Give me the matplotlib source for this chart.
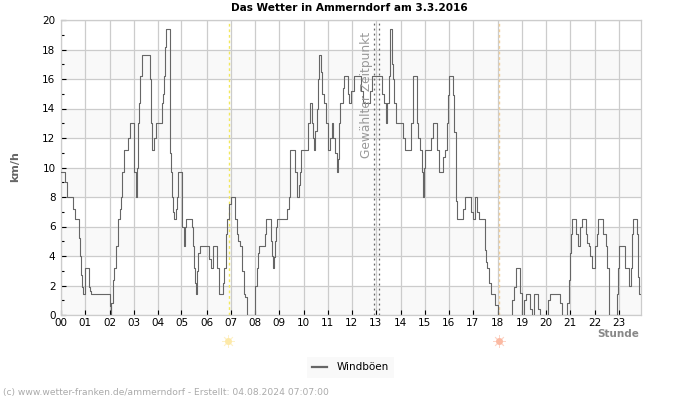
import matplotlib
matplotlib.use('Agg')
import matplotlib.pyplot as plt
from matplotlib.transforms import blended_transform_factory

# Windboeen (Stunde, km/h), je Zeile 10 Werte
stunden = [0, .17, .25, .50, .58, .73, .80, .84, .87, .91,
           .98, 1.15, 1.2, 1.24, 2.02, 2.06, 2.09, 2.14, 2.2, 2.27,
           2.29, 2.36, 2.43, 2.49, 2.54, 2.60, 2.76, 2.85, 3.01, 3.04,
           3.11, 3.14, 3.2, 3.23, 3.29, 3.36, 3.67, 3.72, 3.76, 3.78,
           3.84, 3.92, 4.17, 4.23, 4.28, 4.32, 4.36, 4.5, 4.53, 4.57,
           4.59, 4.64, 4.68, 4.75, 4.81, 4.85, 5.0, 5.03, 5.08, 5.12,
           5.18, 5.41, 5.46, 5.51, 5.55, 5.59, 5.64, 5.69, 5.75, 6.12,
           6.2, 6.28, 6.45, 6.53, 6.55, 6.7, 6.75, 6.82, 6.88, 6.95,
           7.04, 7.2, 7.27, 7.33, 7.43, 7.5, 7.56, 7.62, 7.71, 8.02,
           8.05, 8.12, 8.16, 8.2, 8.43, 8.5, 8.68, 8.74, 8.77, 8.81,
           8.85, 8.9, 8.95, 9.35, 9.43, 9.47, 9.5, 9.68, 9.77, 9.84,
           9.88, 9.93, 10.22, 10.24, 10.31, 10.38, 10.42, 10.48, 10.53, 10.59,
           10.63, 10.67, 10.75, 10.82, 10.88, 10.96, 11.06, 11.13, 11.21, 11.28,
           11.36, 11.42, 11.47, 11.5, 11.53, 11.57, 11.67, 11.72, 11.87, 11.94,
           12.03, 12.14, 12.44, 12.51, 12.81, 12.88, 13.28, 13.37, 13.45, 13.5,
           13.57, 13.63, 13.71, 13.75, 13.81, 13.89, 14.15, 14.25, 14.48, 14.57,
           14.73, 14.77, 14.88, 14.95, 14.99, 15.02, 15.08, 15.33, 15.4, 15.56,
           15.67, 15.81, 15.91, 15.98, 16.03, 16.06, 16.23, 16.29, 16.34, 16.36,
           16.41, 16.65, 16.74, 16.99, 17.05, 17.14, 17.22, 17.32, 17.57, 17.62,
           17.65, 17.73, 17.81, 17.97, 18.09, 18.67, 18.77, 18.84, 19.0, 19.08,
           19.17, 19.25, 19.42, 19.5, 19.58, 19.75, 19.83, 20.16, 20.25, 20.66,
           20.74, 20.96, 21.03, 21.09, 21.13, 21.17, 21.32, 21.42, 21.49, 21.58,
           21.74, 21.79, 21.85, 21.92, 21.99, 22.1, 22.21, 22.26, 22.44, 22.58,
           22.63, 22.69, 22.7, 23.02, 23.08, 23.12, 23.37, 23.51, 23.59, 23.64,
           23.68, 23.85, 23.88, 23.92, 24.0]
boeen = [9.7, 9.0, 8.0, 7.2, 6.5, 5.2, 4.0, 2.7, 1.9, 1.4,
         3.2, 1.9, 1.6, 1.4, 0.6, 0, 0.8, 2.4, 3.2, 4.0,
         4.7, 6.5, 7.2, 8.0, 9.7, 11.2, 12.0, 13.0, 11.0, 9.7,
         8.0, 10.0, 13.0, 14.4, 16.2, 17.6, 16.0, 13.0, 12.0, 11.2,
         12.0, 13.0, 14.4, 15.0, 16.2, 18.2, 19.4, 16.0, 11.0, 9.7,
         8.0, 7.0, 6.5, 7.2, 8.0, 9.7, 8.0, 6.0, 4.7, 6.0,
         6.5, 6.0, 4.7, 3.2, 2.2, 1.4, 3.0, 4.2, 4.7, 3.8,
         3.2, 4.7, 3.2, 2.2, 1.4, 2.2, 3.2, 5.5, 6.5, 7.5,
         8.0, 6.5, 5.5, 5.0, 4.7, 3.0, 1.4, 1.2, 0, 1.0,
         2.0, 3.2, 4.2, 4.7, 5.5, 6.5, 5.0, 4.0, 3.2, 3.9,
         5.0, 6.0, 6.5, 7.2, 8.0, 9.7, 11.2, 9.7, 8.0, 8.8,
         9.7, 11.2, 12.0, 13.0, 14.4, 13.0, 12.0, 11.2, 12.5, 14.0,
         16.0, 17.6, 16.5, 15.0, 14.4, 13.0, 11.2, 12.0, 13.0, 12.0,
         11.0, 9.7, 10.6, 11.0, 13.0, 14.4, 15.4, 16.2, 15.0, 14.4,
         15.2, 16.2, 15.2, 14.4, 15.2, 16.2, 15.0, 14.4, 13.0, 14.4,
         16.2, 19.4, 17.0, 16.0, 14.4, 13.0, 12.0, 11.2, 13.0, 16.2,
         13.0, 12.0, 11.2, 9.7, 8.0, 10.0, 11.2, 12.0, 13.0, 11.2,
         9.7, 10.7, 11.2, 13.0, 14.9, 16.2, 14.9, 12.4, 10.0, 7.7,
         6.5, 7.2, 8.0, 7.0, 6.5, 8.0, 7.0, 6.5, 4.4, 3.6,
         3.2, 2.2, 1.4, 0.7, 0, 1.0, 1.9, 3.2, 1.5, 0,
         1.0, 1.4, 0.4, 0, 1.4, 0.4, 0, 1.0, 1.4, 0.8,
         0, 0.8, 2.4, 4.2, 5.5, 6.5, 5.5, 4.7, 6.0, 6.5,
         5.5, 4.9, 4.7, 4.0, 3.2, 4.7, 5.5, 6.5, 5.5, 4.7,
         3.2, 1.4, 0, 1.4, 3.2, 4.7, 3.2, 2.0, 3.2, 5.5,
         6.5, 5.5, 2.6, 1.4, 1.4]
# Stundenmarken liegen nicht ganz regelmaessig
stunden_pos = [0, .98, 2.04, 3.02, 4, 4.99, 6.04, 7.04, 8.02, 9.01, 10.05, 11.04, 12.04, 13.03, 14.07, 15.07,
               16.06, 17.05, 18.09, 19.09, 20.08, 21.07, 22.11, 23.1]
stunden_text = ['%02d' % h for h in range(24)]
sonne_auf = 6.96
sonne_unter = 18.16
zeitpunkt = [12.96, 13.19]

B, H = 700, 400
fig = plt.figure(figsize=(7, 4), dpi=100, facecolor='white')
ax = fig.add_axes([61 / B, 1 - 315 / H, 579.5 / B, 295 / H])
ax.set_xlim(0, 24)
ax.set_ylim(0, 20)

# graue Baender und Gitter
for y in range(0, 20, 4):
    ax.axhspan(y, y + 2, color='#f9f9f9', lw=0, zorder=0)
ax.set_axisbelow(True)
ax.grid(True, color='#cccccc', lw=0.9)
for s in ax.spines.values():
    s.set_color('#cccccc')
    s.set_linewidth(0.9)

ax.set_xticks(stunden_pos)
ax.set_xticklabels(stunden_text)
ax.set_yticks(range(0, 21, 2))
ax.set_yticks(range(1, 20, 2), minor=True)
ax.tick_params(axis='x', direction='in', length=3.6, width=0.8, labelsize=7.5, pad=2.5)
ax.tick_params(axis='y', direction='in', length=3.6, width=0.8, labelsize=7.5, pad=4)
ax.tick_params(axis='y', which='minor', direction='in', length=2.2, width=0.8)

ax.plot(stunden, boeen, color='#666666', lw=0.8, drawstyle='steps-post', zorder=3, label='Windböen')

# Sonnenauf- und -untergang, gewaehlter Zeitpunkt
ax.axvline(sonne_auf, color='#f2e85c', lw=1, ls=(0, (2, 2)), zorder=2)
ax.axvline(sonne_unter, color='#f0cf9a', lw=1, ls=(0, (2, 2)), zorder=2)
for z in zeitpunkt:
    ax.axvline(z, color='#666666', lw=0.9, ls=(0, (1.5, 2.5)), zorder=2)

trans = blended_transform_factory(ax.transData, ax.transAxes)
for h, c in [(sonne_auf - 0.05, '#fde9a8'), (sonne_unter, '#fbb9a2')]:
    ax.plot([h], [-0.088], marker=(8, 2, 0), ms=9, mew=0.6, color=c, alpha=0.6, transform=trans, clip_on=False)
    ax.plot([h], [-0.088], marker='o', ms=5, color=c, mew=0, transform=trans, clip_on=False)

fig.text(349 / B, 1 - 8 / H, 'Das Wetter in Ammerndorf am 3.3.2016', ha='center', va='center',
         fontsize=7.55, fontweight='bold', color='black')
fig.text(15 / B, 1 - 167 / H, 'km/h', rotation=90, ha='center', va='center',
         fontsize=8, fontweight='bold', color='#666666')
fig.text(639 / B, 1 - 334 / H, 'Stunde', ha='right', va='center',
         fontsize=7.5, fontweight='bold', color='#888888')
fig.text(366 / B, 1 - 95 / H, 'Gewählter Zeitpunkt', rotation=90, ha='center', va='center',
         fontsize=8.8, color='#999999')
fig.text(3 / B, 1 - 393 / H, '(c) www.wetter-franken.de/ammerndorf - Erstellt: 04.08.2024 07:07:00',
         ha='left', va='center', fontsize=6.6, color='#aaaaaa')

leg = fig.legend(loc='center', bbox_to_anchor=(350.5 / B, 1 - 367.5 / H), fontsize=7.5, frameon=True,
                 facecolor='#f9f9f9', edgecolor='none', fancybox=False, framealpha=1,
                 handlelength=1.5, handletextpad=0.9, borderpad=0.5)
for l in leg.get_lines():
    l.set_linewidth(1.6)
    l.set_drawstyle('default')

fig.savefig('out.png', dpi=100)
